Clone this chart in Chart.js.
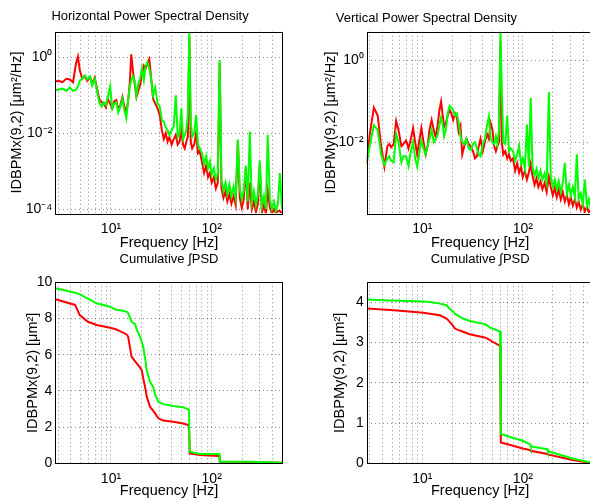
<!DOCTYPE html>
<html>
<head>
<meta charset="utf-8">
<title>Power Spectral Density</title>
<script src="https://cdn.jsdelivr.net/npm/chart.js@4.4.1/dist/chart.umd.min.js"></script>
<style>
  html, body { margin: 0; padding: 0; background: #fff; overflow: hidden; }
  #wrap { position: relative; width: 590px; height: 502px; overflow: hidden; }
  canvas { position: absolute; }
</style>
</head>
<body>
<div id="wrap">
  <canvas id="psdH" width="295" height="252" style="left:0;top:0"></canvas>
  <canvas id="psdV" width="342" height="252" style="left:258px;top:0"></canvas>
  <canvas id="cumH" width="295" height="252" style="left:0;top:250px"></canvas>
  <canvas id="cumV" width="342" height="252" style="left:258px;top:250px"></canvas>
</div>
<script>
// Frequency bins [Hz] for the spectral density plots
const freq = [
  2.8, 3.0, 3.3, 3.6, 3.9, 4.2, 4.5, 4.7, 4.9, 5.2,
  5.5, 5.8, 6.2, 6.5, 6.9, 7.3, 7.7, 8.1, 8.5, 8.9,
  9.3, 9.8, 10.3, 10.8, 11.3, 11.8, 12.4, 13.0, 13.6, 14.2,
  14.8, 15.4, 15.9, 16.5, 17.2, 17.9, 18.7, 19.5, 20.3, 21.2,
  22.1, 23.0, 24.0, 25.0, 26.2, 27.5, 29, 30.5, 32, 33.5,
  35, 36.5, 38, 40, 42, 44, 46, 48, 50, 52,
  54, 56, 58, 60, 62, 64, 67, 70, 73, 76,
  80, 84, 88, 92, 96, 100, 105, 110, 115, 120,
  125, 131, 137, 143, 150, 157, 165, 173, 182, 190,
  199, 208, 218, 228, 239, 250, 262, 275, 288, 300,
  315, 330, 345, 360, 378, 396, 415, 435, 455, 475, 500
];

// Horizontal PSD [um^2/Hz]
const psdHRed = [
  0.23, 0.24, 0.22, 0.27, 0.26, 0.22, 0.7, 1.04, 0.45, 0.27,
  0.32, 0.24, 0.3, 0.2, 0.29, 0.14, 0.075, 0.065, 0.06, 0.048,
  0.08, 0.06, 0.045, 0.07, 0.075, 0.042, 0.055, 0.09, 0.05, 0.035,
  0.07, 0.22, 1.2, 0.45, 0.2, 0.09, 0.13, 0.19, 0.35, 0.6,
  0.5, 0.7, 0.9, 0.3, 0.08, 0.06, 0.045, 0.03, 0.012, 0.007,
  0.01, 0.006, 0.008, 0.005, 0.007, 0.009, 0.005, 0.006, 0.012, 0.005,
  0.004, 0.006, 0.008, 3.5, 0.006, 0.004, 0.005, 0.01, 0.003, 0.0035,
  0.0018, 0.0009, 0.0014, 0.0007, 0.0009, 0.0005, 0.0007, 0.00035, 0.0005, 0.7,
  0.00035, 0.0002, 0.0003, 0.00016, 0.00025, 0.00014, 0.00022, 0.00013, 0.0065, 0.0002,
  0.00011, 0.00018, 0.0012, 0.0001, 0.0005, 0.0001, 0.00016, 0.000085, 0.00014, 0.0015,
  0.00008, 0.00013, 0.000079, 0.0003, 0.00011, 0.000078, 0.0001, 0.000078, 0.00009, 0.00009, 0.000078
];
const psdHGreen = [
  0.135, 0.14, 0.15, 0.13, 0.16, 0.13, 0.14, 0.17, 0.24, 0.28,
  0.33, 0.26, 0.31, 0.18, 0.27, 0.12, 0.06, 0.05, 0.065, 0.055,
  0.09, 0.17, 0.045, 0.06, 0.065, 0.035, 0.05, 0.08, 0.04, 0.025,
  0.075, 0.17, 0.25, 0.32, 0.24, 0.1, 0.2, 0.28, 0.5, 0.25,
  0.6, 0.75, 0.5, 0.28, 0.1, 0.16, 0.06, 0.05, 0.022, 0.02,
  0.014, 0.012, 0.009, 0.012, 0.015, 0.1, 0.008, 0.01, 0.045, 0.007,
  0.009, 0.012, 0.03, 4.7, 0.02, 0.008, 0.01, 0.03, 0.005, 0.004,
  0.003, 0.0015, 0.0025, 0.0012, 0.0018, 0.0008, 0.0012, 0.0006, 0.0009, 0.85,
  0.0006, 0.0003, 0.0005, 0.00025, 0.00045, 0.00022, 0.0004, 0.0002, 0.0068, 0.00035,
  0.00018, 0.0003, 0.0014, 0.00016, 0.011, 0.00015, 0.0003, 0.00013, 0.00025, 0.0019,
  0.00012, 0.00022, 0.0001, 0.009, 0.00018, 0.0001, 0.00016, 0.00009, 0.00014, 0.0009, 0.0001
];

// Vertical PSD [um^2/Hz]
const psdVRed = [
  0.003, 0.015, 0.07, 0.045, 0.008, 0.0025, 0.008, 0.009, 0.0075, 0.009,
  0.033, 0.02, 0.008, 0.009, 0.011, 0.007, 0.012, 0.022, 0.01, 0.005,
  0.01, 0.022, 0.01, 0.005, 0.008, 0.02, 0.035, 0.02, 0.013, 0.025,
  0.06, 0.099, 0.05, 0.024, 0.03, 0.045, 0.062, 0.05, 0.035, 0.05,
  0.04, 0.018, 0.025, 0.005, 0.008, 0.012, 0.009, 0.0075, 0.006, 0.004,
  0.0045, 0.008, 0.012, 0.006, 0.01, 0.016, 0.012, 0.029, 0.02, 0.008,
  0.006, 0.008, 0.01, 3.0, 0.01, 0.005, 0.006, 0.004, 0.005, 0.0035,
  0.004, 0.002, 0.003, 0.0018, 0.0025, 0.0014, 0.002, 0.0012, 0.0018, 0.003,
  0.0015, 0.0009, 0.0013, 0.0008, 0.0011, 0.0007, 0.001, 0.0006, 0.0014, 0.0008,
  0.0005, 0.00075, 0.00045, 0.0007, 0.0004, 0.0006, 0.00035, 0.0005, 0.0003, 0.00045,
  0.00028, 0.0004, 0.00025, 0.00035, 0.00022, 0.0003, 0.0002, 0.00026, 0.00019, 0.00022, 0.00018
];
const psdVGreen = [
  0.003, 0.008, 0.026, 0.02, 0.005, 0.0028, 0.004, 0.0045, 0.0035, 0.0032,
  0.016, 0.01, 0.0032, 0.0045, 0.0045, 0.0026, 0.006, 0.01, 0.004, 0.0025,
  0.005, 0.011, 0.007, 0.005, 0.008, 0.012, 0.02, 0.01, 0.012, 0.015,
  0.025, 0.04, 0.03, 0.014, 0.02, 0.05, 0.078, 0.07, 0.06, 0.045,
  0.05, 0.03, 0.014, 0.01, 0.009, 0.012, 0.007, 0.0064, 0.009, 0.01,
  0.007, 0.005, 0.0045, 0.009, 0.012, 0.025, 0.042, 0.012, 0.01, 0.009,
  0.014, 0.009, 0.02, 5.1, 0.16, 0.01, 0.009, 0.045, 0.006, 0.007,
  0.006, 0.0035, 0.005, 0.008, 0.003, 0.004, 0.0022, 0.027, 0.0025, 0.12,
  0.0025, 0.0015, 0.0022, 0.0013, 0.002, 0.0012, 0.0017, 0.001, 0.17, 0.0014,
  0.0008, 0.0012, 0.0007, 0.0011, 0.0006, 0.001, 0.0031, 0.00055, 0.0009, 0.0005,
  0.0008, 0.00045, 0.005, 0.0004, 0.00055, 0.0003, 0.0012, 0.00028, 0.0004, 0.00022, 0.0003
];

// Cumulative integrated PSD [um^2]
const cumFreqH = [2.8, 4.4, 4.9, 5.9, 7.2, 9.8, 11, 12.3, 14.3, 14.8, 16, 17.3, 18, 19.4, 20.2, 20.9, 22.1,
  22.6, 24.4, 26.3, 27.4, 29.5, 33, 41.5, 52, 58.5, 59.5, 60.5, 76, 116, 119.5, 120.5, 240, 500];
const cumHRed = [9.06, 8.75, 8.19, 7.82, 7.64, 7.49, 7.42, 7.3, 7.12, 7.0, 5.89, 5.65, 5.52, 5.3, 5.15, 4.7, 4.05,
  3.7, 3.13, 2.9, 2.76, 2.49, 2.36, 2.3, 2.2, 2.12, 2.1, 0.55, 0.46, 0.4, 0.4, 0.08, 0.07, 0.03];
const cumHGreen = [9.67, 9.42, 9.33, 9.1, 8.84, 8.65, 8.5, 8.45, 8.38, 8.3, 7.82, 7.7, 7.4, 7.0, 6.7, 6.44, 5.6,
  5.15, 4.5, 4.2, 3.8, 3.4, 3.27, 3.17, 3.1, 2.98, 2.95, 0.64, 0.52, 0.51, 0.5, 0.09, 0.08, 0.03];

const cumFreqV = [2.8, 4.8, 6.0, 10.2, 11.9, 15, 17.4, 18.1, 20.3, 21.1, 23.6, 25.5, 29.7, 41.8, 43.5,
  46.8, 48.6, 57.7, 59.5, 60.5, 73.6, 100, 117, 119.5, 120.5, 176, 178, 313, 450, 500];
const cumVRed = [3.85, 3.81, 3.79, 3.74, 3.72, 3.68, 3.6, 3.56, 3.42, 3.35, 3.3, 3.27, 3.21, 3.13, 3.11,
  3.07, 3.04, 2.94, 2.92, 0.52, 0.46, 0.37, 0.33, 0.32, 0.31, 0.23, 0.22, 0.08, 0.02, 0.01];
const cumVGreen = [4.07, 4.05, 4.04, 4.02, 4.01, 3.97, 3.93, 3.88, 3.77, 3.72, 3.64, 3.6, 3.54, 3.46, 3.44,
  3.38, 3.36, 3.29, 3.27, 0.73, 0.66, 0.56, 0.48, 0.46, 0.42, 0.35, 0.3, 0.12, 0.03, 0.01];

// Tick positions
const freqTicks = [3, 4, 5, 6, 7, 8, 9, 10, 20, 30, 40, 50, 60, 70, 80, 90, 100, 200, 300, 400, 500];
const psdHTicks = [1e-4, 1e-2, 1];
const psdVTicks = [1e-2, 1];
const cumHTicks = [0, 2, 4, 6, 8, 10];
const cumVTicks = [0, 1, 2, 3, 4];

Chart.defaults.font.family = '"Liberation Sans", Arial, Helvetica, sans-serif';
Chart.defaults.color = '#000';

const SUP = { '0': '\u2070', '1': '\u00b9', '2': '\u00b2', '3': '\u00b3', '4': '\u2074', '-': '\u207b' };
function powLabel(v) {
  const e = Math.log10(v);
  const r = Math.round(e);
  if (Math.abs(e - r) > 1e-6) return '';
  return '10' + String(r).split('').map(c => SUP[c]).join('');
}

function series(xs, ys) {
  return xs.map((x, i) => ({ x: x, y: ys[i] }));
}

// black frame round the axes, like a matlab box
const boxPlugin = {
  id: 'box',
  afterDraw(chart) {
    const { ctx, chartArea: a } = chart;
    ctx.save();
    ctx.strokeStyle = '#000';
    ctx.lineWidth = 1;
    ctx.strokeRect(Math.round(a.left) + 0.5, Math.round(a.top) + 0.5,
      Math.round(a.right - a.left), Math.round(a.bottom - a.top));
    ctx.restore();
  }
};

const gridStyle = { color: 'rgba(0,0,0,0.45)', lineWidth: 1, drawTicks: false };
const borderStyle = { display: false, dash: [1, 3] };

function buildChart(id, c) {
  const yScale = {
    type: c.yLog ? 'logarithmic' : 'linear',
    min: c.yMin,
    max: c.yMax,
    afterBuildTicks: s => { s.ticks = c.yTicks.map(v => ({ value: v })); },
    afterFit: s => { s.width = c.yWidth; },
    ticks: {
      autoSkip: false,
      padding: 3,
      font: { size: 14 },
      callback: v => c.yLog ? powLabel(v) : String(v)
    },
    grid: gridStyle,
    border: borderStyle,
    title: { display: true, text: c.yLabel, font: { size: 14.5 }, padding: { top: c.yLabelPad, bottom: 0 } }
  };

  return new Chart(document.getElementById(id), {
    type: 'line',
    data: {
      datasets: [
        { data: series(c.x, c.red), borderColor: '#ff0000', order: 1 },
        { data: series(c.x, c.green), borderColor: '#00ff00', order: 0 }
      ]
    },
    options: {
      responsive: false,
      animation: false,
      devicePixelRatio: 1,
      elements: { line: { borderWidth: 2, tension: 0 }, point: { radius: 0 } },
      layout: { padding: { left: c.padLeft, right: c.padRight, top: 0, bottom: 0 } },
      plugins: {
        legend: { display: false },
        tooltip: { enabled: false },
        title: {
          display: true, text: c.title, fullSize: c.titleFull,
          font: { size: 13, weight: 'normal' }, padding: c.titlePad
        }
      },
      scales: {
        x: {
          type: 'logarithmic',
          min: 2.8,
          max: 507,
          afterBuildTicks: s => { s.ticks = freqTicks.map(v => ({ value: v })); },
          afterFit: s => { s.height = 38.7; },
          ticks: { autoSkip: false, maxRotation: 0, padding: 7, font: { size: 14 }, callback: v => powLabel(v) },
          grid: gridStyle,
          border: borderStyle,
          title: { display: true, text: 'Frequency [Hz]', font: { size: 14.5 }, padding: { top: 0, bottom: c.xLabelPad } }
        },
        y: yScale
      }
    },
    plugins: [boxPlugin]
  });
}

buildChart('psdH', {
  x: freq, red: psdHRed, green: psdHGreen,
  yLog: true, yMin: 7.8e-5, yMax: 4.7, yTicks: psdHTicks,
  yLabel: 'IDBPMx(9,2) [\u03bcm\u00b2/Hz]', yLabelPad: -9.1, yWidth: 37.9,
  title: 'Horizontal Power Spectral Density', titleFull: true, titlePad: { top: 9, bottom: 7.1 },
  padLeft: 17.4, padRight: 12.3, xLabelPad: 0.2
});

buildChart('psdV', {
  x: freq, red: psdVRed, green: psdVGreen,
  yLog: true, yMin: 1.8e-4, yMax: 5.1, yTicks: psdVTicks,
  yLabel: 'IDBPMy(9,2) [\u03bcm\u00b2/Hz]', yLabelPad: 64, yWidth: 108.7,
  title: 'Vertical Power Spectral Density', titleFull: true, titlePad: { top: 11, bottom: 5.1 },
  padLeft: 0, padRight: 5.2, xLabelPad: 0.2
});

buildChart('cumH', {
  x: cumFreqH, red: cumHRed, green: cumHGreen,
  yLog: false, yMin: 0, yMax: 10, yTicks: cumHTicks,
  yLabel: 'IDBPMx(9,2) [\u03bcm\u00b2]', yLabelPad: 24, yWidth: 55.3,
  title: 'Cumulative \u222bPSD', titleFull: false, titlePad: { top: 1.2, bottom: 15.5 },
  padLeft: 0, padRight: 12.3, xLabelPad: 2.2
});

buildChart('cumV', {
  x: cumFreqV, red: cumVRed, green: cumVGreen,
  yLog: false, yMin: 0, yMax: 4.5, yTicks: cumVTicks,
  yLabel: 'IDBPMy(9,2) [\u03bcm\u00b2]', yLabelPad: 73, yWidth: 108.7,
  title: 'Cumulative \u222bPSD', titleFull: false, titlePad: { top: 1.2, bottom: 15.5 },
  padLeft: 0, padRight: 5.2, xLabelPad: 2.2
});
</script>
</body>
</html>
